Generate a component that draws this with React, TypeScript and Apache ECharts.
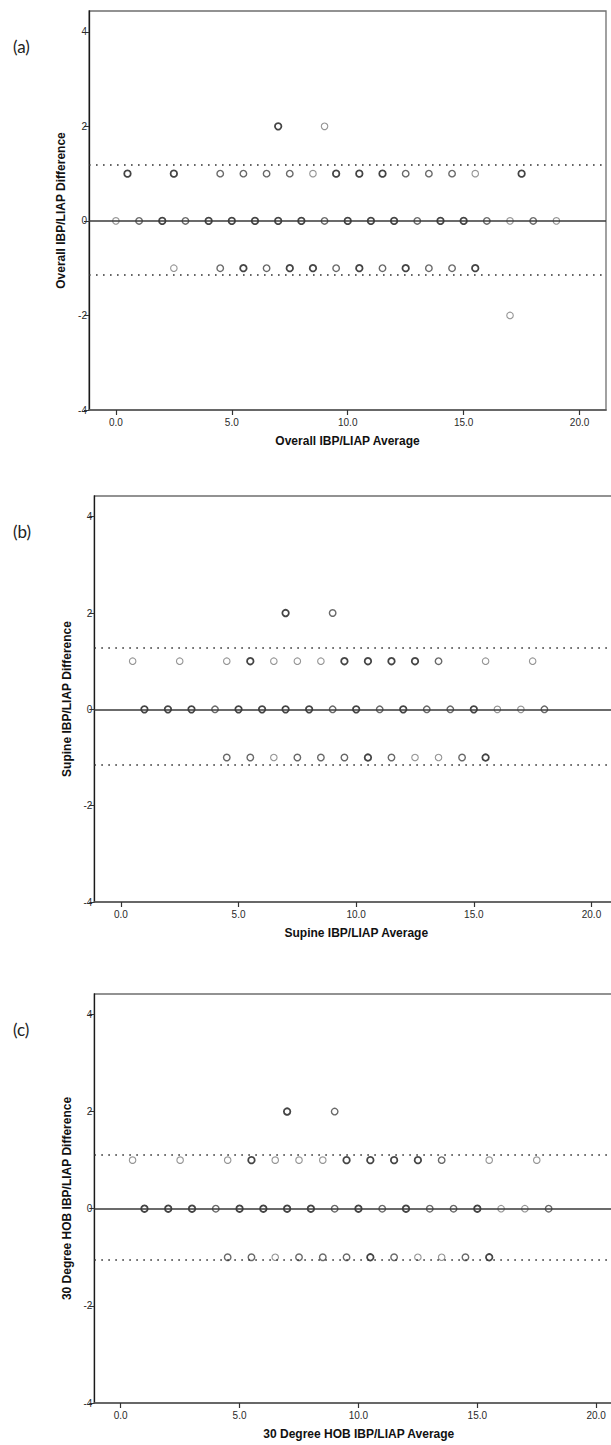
import React, { useEffect, useRef } from "react";
import * as echarts from "echarts";

// ---- tick labels ----
const xTicks = [0, 5, 10, 15, 20];
const yTicks = [-4, -2, 0, 2, 4];

// ---- panel (a): Overall ----
const overallAvg = [
  7, 9,
  0.5, 2.5, 4.5, 5.5, 6.5, 7.5, 8.5, 9.5, 10.5, 11.5, 12.5, 13.5, 14.5, 15.5, 17.5,
  0, 1, 2, 3, 4, 5, 6, 7, 8, 9, 10, 11, 12, 13, 14, 15, 16, 17, 18, 19,
  2.5, 4.5, 5.5, 6.5, 7.5, 8.5, 9.5, 10.5, 11.5, 12.5, 13.5, 14.5, 15.5,
  17,
];
const overallDiff = [
  2, 2,
  1, 1, 1, 1, 1, 1, 1, 1, 1, 1, 1, 1, 1, 1, 1,
  0, 0, 0, 0, 0, 0, 0, 0, 0, 0, 0, 0, 0, 0, 0, 0, 0, 0, 0, 0,
  -1, -1, -1, -1, -1, -1, -1, -1, -1, -1, -1, -1, -1,
  -2,
];
const overallOverlap = [
  3, 1,
  3, 3, 2, 2, 2, 2, 1, 3, 3, 3, 2, 2, 2, 1, 3,
  1, 2, 3, 2, 3, 3, 3, 3, 3, 2, 3, 3, 3, 2, 3, 3, 2, 1, 2, 1,
  1, 2, 3, 2, 3, 3, 2, 3, 2, 3, 2, 2, 3,
  1,
];
const overallLimits = [1.19, 0, -1.13];

// ---- panel (b): Supine ----
const supineAvg = [
  7, 9,
  0.5, 2.5, 4.5, 5.5, 6.5, 7.5, 8.5, 9.5, 10.5, 11.5, 12.5, 13.5, 15.5, 17.5,
  1, 2, 3, 4, 5, 6, 7, 8, 9, 10, 11, 12, 13, 14, 15, 16, 17, 18,
  4.5, 5.5, 6.5, 7.5, 8.5, 9.5, 10.5, 11.5, 12.5, 13.5, 14.5, 15.5,
];
const supineDiff = [
  2, 2,
  1, 1, 1, 1, 1, 1, 1, 1, 1, 1, 1, 1, 1, 1,
  0, 0, 0, 0, 0, 0, 0, 0, 0, 0, 0, 0, 0, 0, 0, 0, 0, 0,
  -1, -1, -1, -1, -1, -1, -1, -1, -1, -1, -1, -1,
];
const supineOverlap = [
  3, 2,
  1, 1, 1, 3, 1, 1, 1, 3, 3, 3, 3, 2, 1, 1,
  3, 3, 3, 2, 3, 3, 3, 3, 2, 3, 2, 3, 2, 2, 3, 1, 1, 2,
  2, 2, 1, 2, 2, 2, 3, 2, 1, 1, 2, 3,
];
const supineLimits = [1.28, 0, -1.15];

// ---- panel (c): 30 Degree HOB ----
const hobAvg = [
  7, 9,
  0.5, 2.5, 4.5, 5.5, 6.5, 7.5, 8.5, 9.5, 10.5, 11.5, 12.5, 13.5, 15.5, 17.5,
  1, 2, 3, 4, 5, 6, 7, 8, 9, 10, 11, 12, 13, 14, 15, 16, 17, 18,
  4.5, 5.5, 6.5, 7.5, 8.5, 9.5, 10.5, 11.5, 12.5, 13.5, 14.5, 15.5,
];
const hobDiff = [
  2, 2,
  1, 1, 1, 1, 1, 1, 1, 1, 1, 1, 1, 1, 1, 1,
  0, 0, 0, 0, 0, 0, 0, 0, 0, 0, 0, 0, 0, 0, 0, 0, 0, 0,
  -1, -1, -1, -1, -1, -1, -1, -1, -1, -1, -1, -1,
];
const hobOverlap = [
  3, 2,
  1, 1, 1, 3, 1, 1, 1, 3, 3, 3, 3, 2, 1, 1,
  3, 3, 3, 2, 3, 3, 3, 3, 2, 3, 2, 3, 2, 2, 3, 1, 1, 2,
  2, 2, 1, 2, 2, 2, 3, 2, 1, 1, 2, 3,
];
const hobLimits = [1.12, 0, -1.06];

const panelLetters = ["(a)", "(b)", "(c)"];
const xTitles = [
  "Overall IBP/LIAP Average",
  "Supine IBP/LIAP Average",
  "30 Degree HOB IBP/LIAP Average",
];
const yTitles = [
  "Overall IBP/LIAP Difference",
  "Supine IBP/LIAP Difference",
  "30 Degree HOB IBP/LIAP Difference",
];

const panelData = [
  { avg: overallAvg, diff: overallDiff, overlap: overallOverlap, limits: overallLimits },
  { avg: supineAvg, diff: supineDiff, overlap: supineOverlap, limits: supineLimits },
  { avg: hobAvg, diff: hobDiff, overlap: hobOverlap, limits: hobLimits },
];

// layout (pixels / axis extents), kept separate from the data
const layouts = [
  { left: 89, top: 11, width: 517, height: 399, xMin: -1.16, xMax: 21.14, yMax: 4.44, yGap: 17, xGap: 25 },
  { left: 94.3, top: 496, width: 524, height: 406, xMin: -1.13, xMax: 21.14, yMax: 4.43, yGap: 21, xGap: 25 },
  { left: 94.3, top: 994, width: 529, height: 409, xMin: -1.11, xMax: 21.14, yMax: 4.42, yGap: 21, xGap: 25 },
];

const overlapStyle: Record<number, { color: string; width: number }> = {
  1: { color: "#7a7a7a", width: 1.1 },
  2: { color: "#444444", width: 1.4 },
  3: { color: "#151515", width: 1.8 },
};

const FONT = "'Liberation Sans', Arial, sans-serif";

export default function App() {
  const ref = useRef<HTMLDivElement>(null);

  useEffect(() => {
    if (!ref.current) return;
    const chart = echarts.init(ref.current, undefined, { renderer: "svg" });

    const grid: any[] = [];
    const xAxis: any[] = [];
    const yAxis: any[] = [];
    const series: any[] = [];
    const graphic: any[] = [];

    layouts.forEach((L, i) => {
      const P = panelData[i];
      grid.push({
        left: L.left,
        top: L.top,
        width: L.width,
        height: L.height,
        show: true,
        borderColor: "#6f6f6f",
        borderWidth: 1.3,
        backgroundColor: "transparent",
      });
      xAxis.push({
        type: "value",
        gridIndex: i,
        min: L.xMin,
        max: L.xMax,
        name: xTitles[i],
        nameLocation: "middle",
        nameGap: L.xGap,
        nameTextStyle: { fontFamily: FONT, fontWeight: "bold", fontSize: 12, color: "#111" },
        axisLine: { show: true, onZero: false, lineStyle: { color: "#5a5a5a", width: 1.6 } },
        axisTick: {
          show: true,
          length: 5,
          customValues: xTicks,
          lineStyle: { color: "#333", width: 1.2 },
        },
        axisLabel: {
          show: true,
          customValues: xTicks,
          margin: 7,
          fontFamily: FONT,
          fontSize: 10,
          color: "#2a2a2a",
          formatter: (v: number) => v.toFixed(1),
        },
        splitLine: { show: false },
      });
      yAxis.push({
        type: "value",
        gridIndex: i,
        min: -4,
        max: L.yMax,
        name: yTitles[i],
        nameLocation: "middle",
        nameGap: L.yGap,
        nameRotate: 90,
        nameTextStyle: { fontFamily: FONT, fontWeight: "bold", fontSize: 12, color: "#111" },
        axisLine: { show: true, onZero: false, lineStyle: { color: "#1a1a1a", width: 1.3 } },
        axisTick: {
          show: true,
          length: 5,
          customValues: yTicks,
          lineStyle: { color: "#333", width: 1 },
        },
        axisLabel: {
          show: true,
          customValues: yTicks,
          margin: 2,
          fontFamily: FONT,
          fontSize: 10,
          color: "#2a2a2a",
        },
        splitLine: { show: false },
      });

      const data = P.avg.map((x, k) => {
        const s = overlapStyle[P.overlap[k]];
        return {
          value: [x, P.diff[k]],
          itemStyle: { color: "transparent", borderColor: s.color, borderWidth: s.width },
        };
      });

      series.push({
        type: "scatter",
        xAxisIndex: i,
        yAxisIndex: i,
        symbol: "circle",
        symbolSize: [6.5, 6.5],
        data,
        z: 3,
        markLine: {
          silent: true,
          symbol: "none",
          animation: false,
          label: { show: false },
          data: P.limits.map((v) => ({
            yAxis: v,
            lineStyle:
              v === 0
                ? { type: "solid", color: "#3a3a3a", width: 1.5 }
                : { type: [1.6, 5.4], color: "#333", width: 1.6 },
          })),
        },
      });

      graphic.push({
        type: "text",
        left: 13,
        top: L.top + 27,
        style: {
          text: panelLetters[i],
          fontFamily: "Lato, 'Open Sans', sans-serif",
          fontSize: 17,
          fill: "#222",
        },
      });
    });

    chart.setOption({
      animation: false,
      backgroundColor: "#ffffff",
      grid,
      xAxis,
      yAxis,
      series,
      graphic,
    });

    return () => chart.dispose();
  }, []);

  return (
    <div
      style={{
        position: "absolute",
        left: 0,
        top: 0,
        width: 611,
        height: 1445,
        overflow: "hidden",
        background: "#fff",
      }}
    >
      <div ref={ref} style={{ width: 640, height: 1445 }} />
    </div>
  );
}
